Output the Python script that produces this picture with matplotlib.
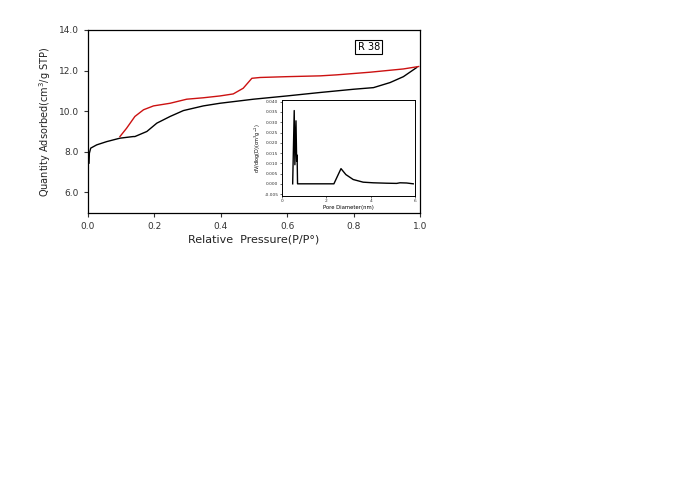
import matplotlib
matplotlib.use("Agg")
import matplotlib.pyplot as plt

# Adsorption branch (black)
ads_p = [0.004, 0.005, 0.009, 0.027, 0.057, 0.097, 0.137, 0.142, 0.178, 0.208, 0.248,
         0.288, 0.348, 0.398, 0.499, 0.599, 0.699, 0.80, 0.86, 0.91, 0.95, 0.99]
ads_q = [7.44, 7.93, 8.18, 8.34, 8.50, 8.67, 8.75, 8.75, 9.00, 9.41, 9.74,
         10.03, 10.26, 10.39, 10.59, 10.75, 10.92, 11.08, 11.16, 11.41, 11.70, 12.15]
# Desorption branch (red)
des_p = [0.097, 0.117, 0.142, 0.168, 0.198, 0.248, 0.298, 0.348, 0.398, 0.438, 0.468,
         0.494, 0.519, 0.599, 0.70, 0.75, 0.85, 0.95, 0.996]
des_q = [8.75, 9.16, 9.74, 10.07, 10.26, 10.39, 10.59, 10.66, 10.75, 10.85, 11.13,
         11.62, 11.66, 11.70, 11.74, 11.79, 11.92, 12.08, 12.20]
# Pore size distribution (inset)
pore_d = [0.48, 0.55, 0.58, 0.63, 0.66, 0.68, 0.70, 2.34, 2.66, 2.88, 3.21, 3.66,
          4.11, 4.71, 5.17, 5.32, 5.62, 5.92]
pore_v = [0.0, 0.0357, 0.0093, 0.0307, 0.011, 0.014, 0.0, 0.0, 0.0074, 0.0045, 0.0021,
          0.0008, 0.0005, 0.0003, 0.0002, 0.0005, 0.0004, 0.0]

main_xticks = [0.0, 0.2, 0.4, 0.6, 0.8, 1.0]
main_xlabels = ["0.0", "0.2", "0.4", "0.6", "0.8", "1.0"]
main_yticks = [6, 8, 10, 12, 14]
main_ylabels = ["6.0", "8.0", "10.0", "12.0", "14.0"]
inset_xticks = [0, 2, 4, 6]
inset_yticks = [-0.005, 0.0, 0.005, 0.010, 0.015, 0.020, 0.025, 0.030, 0.035, 0.040]

fig = plt.figure(figsize=(7.0, 4.93), dpi=100)
ax = fig.add_axes([0.1253, 0.5686, 0.4747, 0.3706])
ax.plot(ads_p, ads_q, color="black", lw=1.0)
ax.plot(des_p, des_q, color="#cc1111", lw=1.0)
ax.set_xlim(0, 1.0)
ax.set_ylim(5.0, 14.0)
ax.set_xticks(main_xticks)
ax.set_xticklabels(main_xlabels)
ax.set_yticks(main_yticks)
ax.set_yticklabels(main_ylabels)
ax.tick_params(direction="out", labelsize=6.5, length=3, width=0.8, colors="#333333")
for s in ax.spines.values():
    s.set_linewidth(0.9)
ax.set_xlabel("Relative  Pressure(P/P°)", fontsize=8, color="#222222", labelpad=3)
ax.set_ylabel("Quantity Adsorbed(cm$^3$/g STP)", fontsize=7, color="#222222", labelpad=4)
ax.text(0.846, 0.907, "R 38", transform=ax.transAxes, fontsize=7, ha="center", va="center",
        bbox=dict(boxstyle="square,pad=0.25", fc="white", ec="black", lw=0.8))

ins = fig.add_axes([0.4029, 0.603, 0.19, 0.194])
ins.plot(pore_d, pore_v, color="black", lw=1.0)
ins.set_xlim(0, 6)
ins.set_ylim(-0.0058, 0.0408)
ins.set_xticks(inset_xticks)
ins.set_yticks(inset_yticks)
ins.set_yticklabels([f"{v:.3f}" for v in inset_yticks])
ins.tick_params(direction="out", labelsize=3.2, length=1.5, width=0.5, pad=1, colors="#333333")
for s in ins.spines.values():
    s.set_linewidth(0.7)
ins.set_xlabel("Pore Diameter(nm)", fontsize=3.8, labelpad=1)
ins.set_ylabel("dV/dlog(D)(cm$^3$g$^{-1}$)", fontsize=3.5, labelpad=1)

fig.savefig("out.png", dpi=100)
